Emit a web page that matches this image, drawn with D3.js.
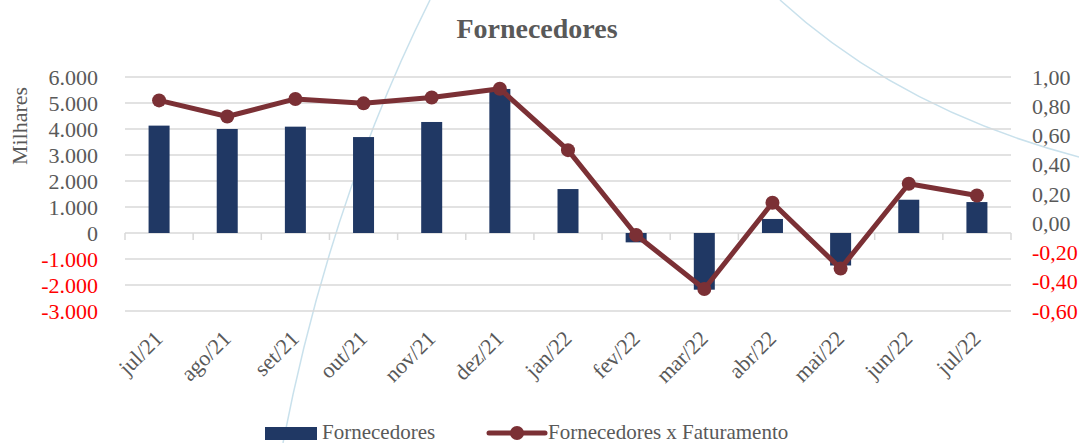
<!DOCTYPE html>
<html>
<head>
<meta charset="utf-8">
<script src="https://d3js.org/d3.v7.min.js"></script>
<style>
  body { margin: 0; background: #fff; }
  text { font-family: "Liberation Serif", "DejaVu Serif", serif; fill: #595959; }
</style>
</head>
<body>
<svg id="chart" width="1079" height="443"></svg>
<script>
// data (bars in thousands, line is a ratio)
var months = ["jul/21", "ago/21", "set/21", "out/21", "nov/21", "dez/21", "jan/22",
              "fev/22", "mar/22", "abr/22", "mai/22", "jun/22", "jul/22"];
var fornecedores = [4130, 4000, 4090, 3690, 4270, 5540, 1690, -360, -2180, 540, -1250, 1280, 1190];
var fornXfat = [0.84, 0.73, 0.85, 0.82, 0.86, 0.92, 0.50, -0.08, -0.45, 0.14, -0.31, 0.27, 0.19];
var leftTicks = [-3000, -2000, -1000, 0, 1000, 2000, 3000, 4000, 5000, 6000];
var rightTicks = [-0.6, -0.4, -0.2, 0, 0.2, 0.4, 0.6, 0.8, 1.0];

var barColor = "#203864", lineColor = "#7B3035";
var svg = d3.select("#chart");
var pLeft = 125, pRight = 1011, pTop = 77, pBottom = 311;

// decorative background curves
svg.append("path").attr("d", "M283,443 Q330,200 430,0")
   .attr("fill", "none").attr("stroke", "#C9E1EC").attr("stroke-width", 1.5);
svg.append("path").attr("d", "M780,0 Q900,110 1079,157")
   .attr("fill", "none").attr("stroke", "#C9E1EC").attr("stroke-width", 1.5);

var x = d3.scaleBand().domain(months).range([pLeft, pRight]);
var y = d3.scaleLinear().domain([-3000, 6000]).range([pBottom, pTop]);
var y2 = d3.scaleLinear().domain([-0.6, 1.0]).range([pBottom, pTop]);

// gridlines
svg.append("g").selectAll("line").data(leftTicks).enter().append("line")
   .attr("x1", pLeft).attr("x2", pRight)
   .attr("y1", d => y(d)).attr("y2", d => y(d))
   .attr("stroke", "#D9D9D9").attr("stroke-width", 1.5);

// category tick marks on zero line
var bounds = months.map(m => x(m)).concat([pRight]);
svg.append("g").selectAll("line").data(bounds).enter().append("line")
   .attr("x1", d => d).attr("x2", d => d)
   .attr("y1", y(0)).attr("y2", y(0) + 7)
   .attr("stroke", "#D9D9D9").attr("stroke-width", 1.5);

// bars
var bw = 21;
svg.append("g").selectAll("rect").data(fornecedores).enter().append("rect")
   .attr("x", (d, i) => x(months[i]) + x.bandwidth() / 2 - bw / 2)
   .attr("width", bw)
   .attr("y", d => y(Math.max(0, d)))
   .attr("height", d => Math.abs(y(d) - y(0)))
   .attr("fill", barColor);

// line
var line = d3.line().x((d, i) => x(months[i]) + x.bandwidth() / 2).y(d => y2(d));
svg.append("path").datum(fornXfat).attr("d", line)
   .attr("fill", "none").attr("stroke", lineColor).attr("stroke-width", 5)
   .attr("stroke-linejoin", "round");
svg.append("g").selectAll("circle").data(fornXfat).enter().append("circle")
   .attr("cx", (d, i) => x(months[i]) + x.bandwidth() / 2)
   .attr("cy", d => y2(d)).attr("r", 7).attr("fill", lineColor);

// left axis labels
var fmtL = d3.formatLocale({decimal: ",", thousands: ".", grouping: [3], currency: ["", ""], minus: "-"});
svg.append("g").selectAll("text").data(leftTicks).enter().append("text")
   .attr("x", 98).attr("y", d => y(d)).attr("dy", "0.35em")
   .attr("text-anchor", "end").style("font-size", "22px")
   .style("fill", d => d < 0 ? "#FF0000" : "#595959")
   .text(d => fmtL.format(",d")(d));

// right axis labels
svg.append("g").selectAll("text").data(rightTicks).enter().append("text")
   .attr("x", 1032).attr("y", d => y2(d)).attr("dy", "0.35em")
   .attr("text-anchor", "start").style("font-size", "22px")
   .style("fill", d => d < -0.001 ? "#FF0000" : "#595959")
   .text(d => fmtL.format(".2f")(Math.abs(d) < 1e-9 ? 0 : d));

// x labels
svg.append("g").selectAll("text").data(months).enter().append("text")
   .attr("transform", d => "translate(" + (x(d) + x.bandwidth() / 2 + 5) + ",340) rotate(-45)")
   .attr("text-anchor", "end").style("font-size", "22px")
   .text(d => d);

// axis title
svg.append("text").attr("transform", "translate(27,126) rotate(-90)")
   .attr("text-anchor", "middle").style("font-size", "22px").text("Milhares");

// chart title
svg.append("text").attr("x", 537).attr("y", 38).attr("text-anchor", "middle")
   .style("font-size", "28px").style("font-weight", "bold").text("Fornecedores");

// legend
var lg = svg.append("g");
lg.append("rect").attr("x", 265).attr("y", 427).attr("width", 52).attr("height", 13).attr("fill", barColor);
lg.append("text").attr("x", 322).attr("y", 439).style("font-size", "21px").text("Fornecedores");
lg.append("line").attr("x1", 489).attr("x2", 545).attr("y1", 433).attr("y2", 433)
   .attr("stroke", lineColor).attr("stroke-width", 5).attr("stroke-linecap", "round");
lg.append("circle").attr("cx", 517).attr("cy", 433).attr("r", 7).attr("fill", lineColor);
lg.append("text").attr("x", 548).attr("y", 439).style("font-size", "21px").text("Fornecedores x Faturamento");
</script>
</body>
</html>
